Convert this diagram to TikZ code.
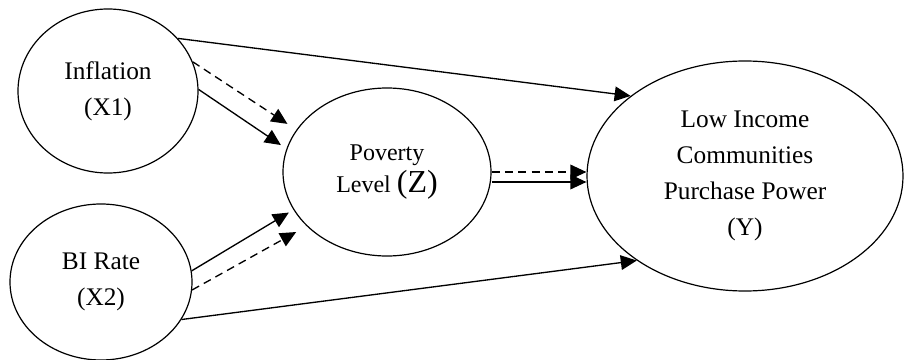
\documentclass[tikz,border=0pt]{standalone}
\usepackage{fontspec}
\setmainfont{Liberation Serif}
\usetikzlibrary{arrows.meta, positioning, shapes.geometric}

\begin{document}
\begin{tikzpicture}[
  x=0.75pt, y=-0.75pt,
  font=\fontsize{19}{27}\selectfont,
  var/.style  = {draw, ellipse, line width=0.9pt, inner sep=0pt,
                 align=center},
  arr/.style  = {-{Triangle[length=12pt,width=11pt]}, line width=1pt},
  darr/.style = {arr, dash pattern=on 6pt off 4pt}
]
\useasboundingbox (0,0) rectangle (906,360);

\node[var, minimum width=135pt, minimum height=123pt]   (infl) at (108,91)  {Inflation\\(X1)};
\node[var, minimum width=136.5pt, minimum height=117pt] (bi)   at (101,282) {BI Rate\\(X2)};
\node[var, minimum width=156pt, minimum height=126pt,
      font=\fontsize{18}{24}\selectfont]                (pov)  at (387,172) {Poverty\\Level {\fontsize{24}{24}\selectfont(Z)}};
\node[var, minimum width=237pt, minimum height=172.5pt] (lowy) at (745,176) {Low Income\\Communities\\Purchase Power\\(Y)};

\draw[arr]                  (infl.37) -- (lowy.145);
\draw[darr, shorten >=8pt]  (infl.19) -- (pov.155);
\draw[arr,  shorten >=5pt]  (infl.1)  -- (pov.167);
\draw[arr,  shorten >=4pt]  (bi.7)    -- (pov.202);
\draw[darr, shorten >=9pt]  (bi.-5)   -- (pov.214);
\draw[arr]                  (bi.-25)  -- (lowy.218);
\draw[darr] (pov.east) -- (pov.east -| lowy.west);
\draw[arr]  ([yshift=-7.5pt]pov.east) -- ([yshift=-7.5pt]pov.east -| lowy.west);
\end{tikzpicture}
\end{document}
